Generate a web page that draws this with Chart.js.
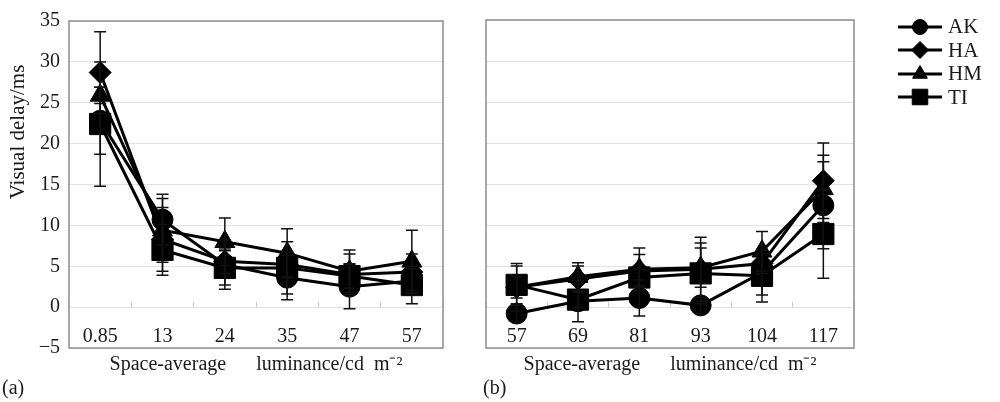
<!DOCTYPE html>
<html>
<head>
<meta charset="utf-8">
<script src="https://cdn.jsdelivr.net/npm/chart.js@4.4.1/dist/chart.umd.min.js"></script>
<style>
    body { margin: 0; background: #fff; font-family: "Liberation Serif", serif; color: #1a1a1a; }
    #wrap { position: relative; width: 1000px; height: 402px; overflow: hidden; }
    .panel { position: absolute; top: 0; height: 402px; }
    #panelA { left: 0; width: 470px; }
    #panelB { left: 470px; width: 400px; }
    .tag { position: absolute; top: 376px; font-size: 20px; }
    #ytitle { position: absolute; left: 17px; top: 132px; font-size: 21px; white-space: nowrap;
              transform: translate(-50%, -50%) rotate(-90deg); }
    #legend { position: absolute; left: 896px; top: 15px; }
    .row { height: 23.5px; display: flex; align-items: center; font-size: 21px; }
    .row canvas { margin-right: 4px; }
</style>
</head>
<body>
<div id="wrap">
    <div class="panel" id="panelA"><canvas id="chartA"></canvas></div>
    <div class="panel" id="panelB"><canvas id="chartB"></canvas></div>
    <div id="ytitle">Visual delay/ms</div>
    <div class="tag" style="left:2px">(a)</div>
    <div class="tag" style="left:483px">(b)</div>
    <div id="legend"></div>
</div>
<script>
// Данные
const labelsA = ['0.85', '13', '24', '35', '47', '57'];
const labelsB = ['57', '69', '81', '93', '104', '117'];

const akA = [22.8, 10.7, 5.2, 3.6, 2.5, 3.2];
const haA = [28.7, 8.3, 5.6, 5.2, 4.0, 4.3];
const hmA = [25.9, 9.4, 8.0, 6.6, 4.4, 5.6];
const tiA = [22.4, 7.0, 4.8, 4.8, 3.8, 2.7];

const akAErr = [4.1, 3.1, 3.0, 2.7, 2.7, 1.5];
const haAErr = [5.0, 3.9, 1.5, 1.5, 2.5, 2.2];
const hmAErr = [1.0, 3.9, 2.9, 3.0, 2.6, 3.8];
const tiAErr = [7.6, 3.1, 2.1, 3.2, 1.5, 2.3];

const akB = [-0.8, 0.7, 1.1, 0.2, 4.2, 12.4];
const haB = [2.4, 3.4, 4.4, 4.6, 5.3, 15.4];
const hmB = [2.4, 3.7, 4.6, 4.8, 6.8, 14.4];
const tiB = [2.7, 0.9, 3.6, 4.1, 3.8, 8.9];

const akBErr = [1.0, 2.5, 2.2, 1.0, 2.75, 5.3];
const haBErr = [2.9, 1.6, 2.0, 3.9, 1.2, 4.6];
const hmBErr = [1.3, 1.7, 2.6, 2.4, 2.4, 4.1];
const tiBErr = [2.3, 1.0, 1.0, 3.7, 3.2, 5.4];

const seriesNames = ['AK', 'HA', 'HM', 'TI'];
const yMin = -5, yMax = 35, yStep = 5;

// Оформление маркеров
const markerStyles = ['circle', 'rectRot', 'triangle', 'rect'];
const markerRadius = [10.5, 11, 11.5, 15];
const legendRadius = [7.5, 8.5, 8.5, 11];

const serif = '"Liberation Serif", "Times New Roman", serif';

// Планки погрешностей
const errorBarsPlugin = {
    id: 'errorBars',
    afterDatasetsDraw(chart) {
        const ctx = chart.ctx;
        const xs = chart.scales.x, ys = chart.scales.y;
        ctx.save();
        ctx.strokeStyle = '#111';
        ctx.lineWidth = 1.5;
        chart.data.datasets.forEach(ds => {
            ds.data.forEach((v, i) => {
                const e = ds.errorBars[i];
                const x = xs.getPixelForValue(i);
                const yt = ys.getPixelForValue(v + e);
                const yb = ys.getPixelForValue(v - e);
                ctx.beginPath();
                ctx.moveTo(x, yt); ctx.lineTo(x, yb);
                ctx.moveTo(x - 6, yt); ctx.lineTo(x + 6, yt);
                ctx.moveTo(x - 6, yb); ctx.lineTo(x + 6, yb);
                ctx.stroke();
            });
        });
        ctx.restore();
    }
};

// Рамка области построения
const framePlugin = {
    id: 'frame',
    afterDraw(chart) {
        const a = chart.chartArea;
        const ctx = chart.ctx;
        ctx.save();
        ctx.strokeStyle = '#8c8c8c';
        ctx.lineWidth = 1.5;
        ctx.strokeRect(a.left, a.top, a.right - a.left, a.bottom - a.top);
        ctx.restore();
    }
};

function makeDatasets(values, errors) {
    return values.map((vals, k) => ({
        label: seriesNames[k],
        data: vals,
        errorBars: errors[k],
        borderColor: '#000',
        backgroundColor: '#000',
        borderWidth: 3,
        pointStyle: markerStyles[k],
        pointRadius: markerRadius[k],
        pointBackgroundColor: '#000',
        pointBorderColor: '#000',
        pointBorderWidth: 1,
        tension: 0,
        order: 3 - k
    }));
}

function makeChart(canvasId, labels, values, errors, showY) {
    const ctx = document.getElementById(canvasId).getContext('2d');
    return new Chart(ctx, {
        type: 'line',
        data: { labels: labels, datasets: makeDatasets(values, errors) },
        options: {
            responsive: true,
            maintainAspectRatio: false,
            animation: false,
            layout: { padding: { top: 20, right: showY ? 27 : 10, left: 0, bottom: 0 } },
            plugins: { legend: { display: false }, tooltip: { enabled: false } },
            scales: {
                // подписи категорий внутри поля, на линии нуля
                x: {
                    type: 'category',
                    offset: true,
                    position: { y: 0 },
                    grid: { display: true, offset: true, drawOnChartArea: false, drawTicks: true, tickLength: -5, color: '#c8c8c8' },
                    border: { display: false },
                    ticks: {
                        color: '#1a1a1a',
                        font: { family: serif, size: 20 },
                        padding: 23,
                        maxRotation: 0,
                        autoSkip: false
                    }
                },
                // только заголовок оси под полем
                xt: {
                    type: 'category',
                    labels: labels,
                    position: 'bottom',
                    grid: { display: false, drawTicks: false },
                    border: { display: false },
                    ticks: { display: false },
                    title: {
                        display: true,
                        text: 'Space-average      luminance/cd  m⁻²',
                        color: '#1a1a1a',
                        font: { family: serif, size: 20 },
                        padding: { top: 0, bottom: 25 }
                    },
                    afterFit: s => { s.height = 54; }
                },
                y: {
                    min: yMin,
                    max: yMax,
                    grid: { color: '#e2e2e2', lineWidth: 1, drawTicks: false },
                    border: { display: false },
                    ticks: {
                        display: showY,
                        stepSize: yStep,
                        color: '#1a1a1a',
                        font: { family: serif, size: 20 },
                        padding: 9,
                        callback: v => String(v).replace('-', '\u2212')
                    },
                    afterFit: s => { s.width = showY ? 69 : 16; }
                }
            }
        },
        plugins: [errorBarsPlugin, framePlugin]
    });
}

makeChart('chartA', labelsA, [akA, haA, hmA, tiA], [akAErr, haAErr, hmAErr, tiAErr], true);
makeChart('chartB', labelsB, [akB, haB, hmB, tiB], [akBErr, haBErr, hmBErr, tiBErr], false);

// Легенда
const legend = document.getElementById('legend');
seriesNames.forEach((name, k) => {
    const row = document.createElement('div');
    row.className = 'row';
    const c = document.createElement('canvas');
    c.width = 48; c.height = 22;
    const g = c.getContext('2d');
    g.strokeStyle = '#000'; g.fillStyle = '#000'; g.lineWidth = 3;
    g.beginPath(); g.moveTo(2, 11); g.lineTo(46, 11); g.stroke();
    g.lineWidth = 1;
    Chart.helpers.drawPoint(g, { pointStyle: markerStyles[k], radius: legendRadius[k], borderWidth: 1, rotation: 0 }, 24, 11);
    row.appendChild(c);
    const t = document.createElement('span');
    t.textContent = name;
    row.appendChild(t);
    legend.appendChild(row);
});
</script>
</body>
</html>
